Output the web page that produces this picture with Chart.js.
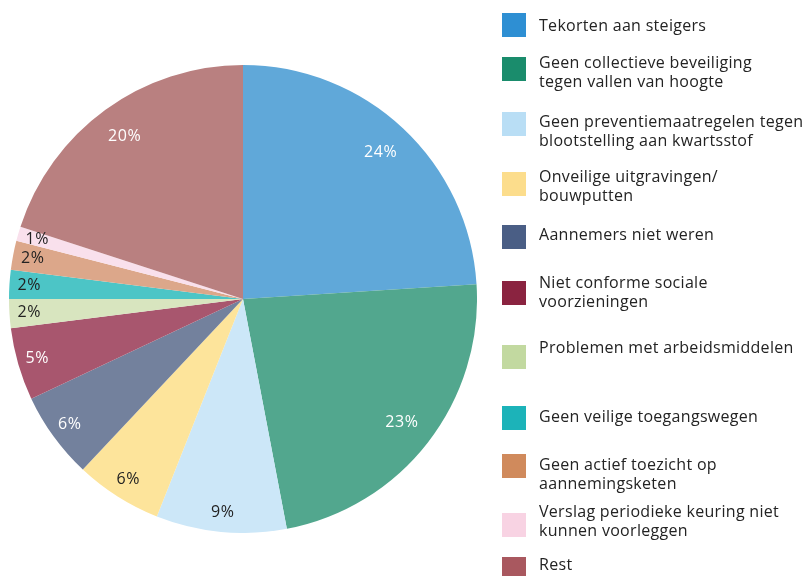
<!DOCTYPE html>
<html>
<head>
<meta charset="utf-8">
<script src="https://cdn.jsdelivr.net/npm/chart.js@4.4.1/dist/chart.umd.min.js"></script>
<style>
  html, body { margin: 0; padding: 0; background: #ffffff; }
  body { width: 806px; height: 576px; position: relative; overflow: hidden; font-family: "Open Sans", sans-serif; }
  #pieWrap { position: absolute; left: 9px; top: 65px; width: 468px; height: 468px; }
  #legend { position: absolute; left: 0; top: 0; width: 806px; height: 576px; pointer-events: none; }
  .lg-box { position: absolute; left: 502px; width: 24px; height: 24px; }
  .lg-text { position: absolute; left: 539px; font-size: 16px; letter-spacing: 0.3px; line-height: 19px; color: #232323; white-space: nowrap; }
</style>
</head>
<body>
<div id="pieWrap"><canvas id="c"></canvas></div>
<div id="legend"></div>
<script>
// ---- data ----
const categories = [
  "Tekorten aan steigers",
  "Geen collectieve beveiliging\ntegen vallen van hoogte",
  "Geen preventiemaatregelen tegen\nblootstelling aan kwartsstof",
  "Onveilige uitgravingen/\nbouwputten",
  "Aannemers niet weren",
  "Niet conforme sociale\nvoorzieningen",
  "Problemen met arbeidsmiddelen",
  "Geen veilige toegangswegen",
  "Geen actief toezicht op\naannemingsketen",
  "Verslag periodieke keuring niet\nkunnen voorleggen",
  "Rest"
];
const percentages = [24, 23, 9, 6, 6, 5, 2, 2, 2, 1, 20];
const valueLabels = ["24%", "23%", "9%", "6%", "6%", "5%", "2%", "2%", "2%", "1%", "20%"];

// ---- styles ----
const sliceColors = ["#60a8d9", "#52a78e", "#cce7f8", "#fde49b", "#73819d", "#a8566e", "#d8e5bf", "#4cc5c6", "#dca78a", "#f9e0ec", "#b98080"];
const legendColors = ["#2e8fd3", "#1a8c6c", "#b9def5", "#fcdd8c", "#4a5e85", "#8a2340", "#c2d9a0", "#1cb3b9", "#d08a5c", "#f8d3e3", "#a9585f"];
const labelColors = ["#ffffff", "#ffffff", "#222222", "#222222", "#ffffff", "#ffffff", "#222222", "#222222", "#222222", "#222222", "#ffffff"];
const legendBoxTops = [13, 57, 112, 172, 225, 281, 345, 406, 454, 513, 557];
const legendTextTops = [16, 53, 112, 167, 225, 273, 338, 407, 455, 502, 555];

const pctLabelPlugin = {
  id: 'pctLabels',
  afterDatasetsDraw(chart) {
    const ctx = chart.ctx;
    const meta = chart.getDatasetMeta(0);
    ctx.save();
    ctx.font = '500 16px "Open Sans", sans-serif';
    if ('letterSpacing' in ctx) ctx.letterSpacing = '0.6px';
    ctx.textAlign = 'center';
    ctx.textBaseline = 'middle';
    meta.data.forEach((arc, i) => {
      const p = arc.getProps(['x', 'y', 'startAngle', 'endAngle', 'outerRadius'], true);
      const mid = (p.startAngle + p.endAngle) / 2;
      const frac = percentages[i] >= 10 ? 0.86 : 0.915;
      const r = p.outerRadius * frac;
      ctx.fillStyle = labelColors[i];
      ctx.fillText(valueLabels[i], p.x + Math.cos(mid) * r, p.y + Math.sin(mid) * r);
    });
    ctx.restore();
  }
};

new Chart(document.getElementById('c'), {
  type: 'pie',
  data: {
    labels: categories,
    datasets: [{
      data: percentages,
      backgroundColor: sliceColors,
      borderWidth: 0
    }]
  },
  options: {
    responsive: true,
    maintainAspectRatio: false,
    animation: false,
    layout: { padding: 0 },
    plugins: {
      legend: { display: false },
      tooltip: { enabled: false }
    }
  },
  plugins: [pctLabelPlugin]
});

const legendEl = document.getElementById('legend');
categories.forEach((name, i) => {
  const box = document.createElement('div');
  box.className = 'lg-box';
  box.style.top = legendBoxTops[i] + 'px';
  box.style.background = legendColors[i];
  legendEl.appendChild(box);
  const t = document.createElement('div');
  t.className = 'lg-text';
  t.style.top = legendTextTops[i] + 'px';
  name.split('\n').forEach((line, k) => {
    if (k > 0) t.appendChild(document.createElement('br'));
    t.appendChild(document.createTextNode(line));
  });
  legendEl.appendChild(t);
});
</script>
</body>
</html>
